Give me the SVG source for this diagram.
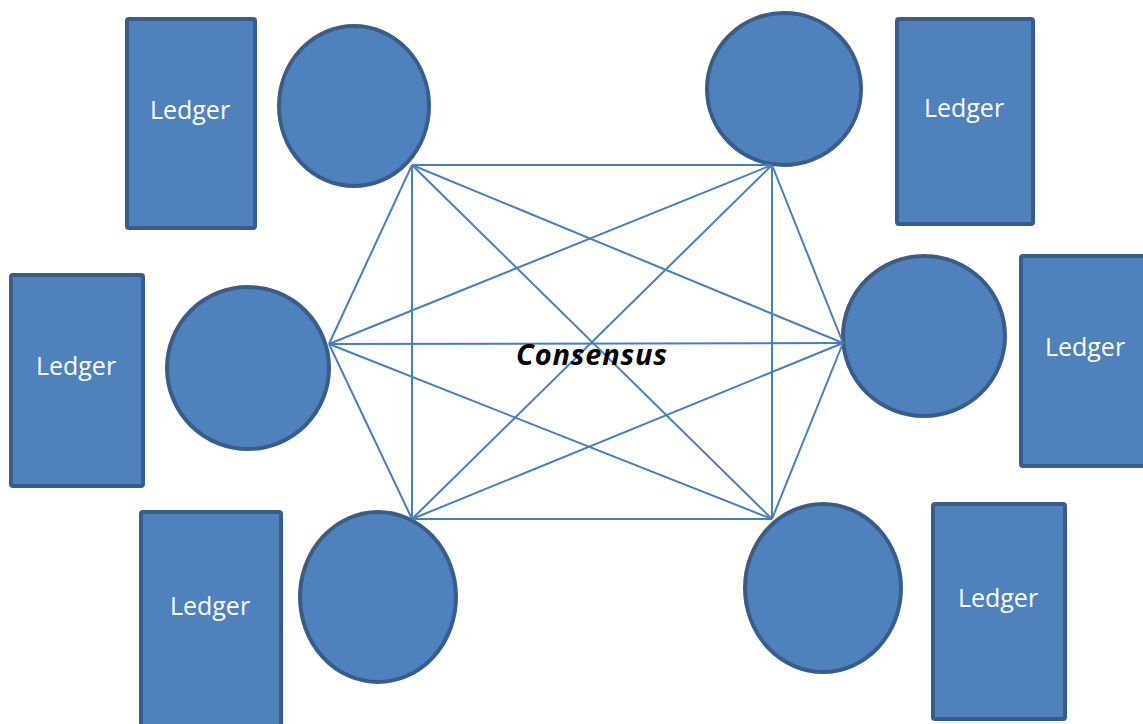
<svg xmlns="http://www.w3.org/2000/svg" width="1143" height="724" viewBox="0 0 1143 724">
<style>
.ledger{fill:#4f81bd;stroke:#385d8a;stroke-width:4}
.node{fill:#4f81bd;stroke:#385d8a;stroke-width:4}
.lt{font-family:"Open Sans","Liberation Sans",sans-serif;font-size:25px;fill:#ffffff;text-anchor:middle;dominant-baseline:central}
.conn line{stroke:#4a7ebb;stroke-width:2}
.cons{font-family:"Open Sans","Liberation Sans",sans-serif;font-size:29px;font-weight:bold;font-style:italic;letter-spacing:0.8px;fill:#000;text-anchor:middle;dominant-baseline:central}
</style>
<rect width="1143" height="724" fill="#ffffff"/>
<g id="ledger1"><rect class="ledger" x="127" y="19" width="128" height="209" rx="2"/><text class="lt" x="190" y="109">Ledger</text></g>
<g id="ledger2"><rect class="ledger" x="11" y="275" width="132" height="211" rx="2"/><text class="lt" x="76" y="365">Ledger</text></g>
<g id="ledger3"><rect class="ledger" x="141" y="512" width="140" height="220" rx="2"/><text class="lt" x="210" y="605">Ledger</text></g>
<g id="ledger4"><rect class="ledger" x="897" y="19" width="136" height="205" rx="2"/><text class="lt" x="964" y="107">Ledger</text></g>
<g id="ledger5"><rect class="ledger" x="1021" y="256" width="132" height="210" rx="2"/><text class="lt" x="1085" y="346">Ledger</text></g>
<g id="ledger6"><rect class="ledger" x="933" y="504" width="132" height="215" rx="2"/><text class="lt" x="998" y="597">Ledger</text></g>
<g id="node1"><ellipse class="node" cx="354" cy="106" rx="75" ry="80"/></g>
<g id="node2"><ellipse class="node" cx="248" cy="368" rx="81" ry="81"/></g>
<g id="node3"><ellipse class="node" cx="378" cy="597" rx="78" ry="85"/></g>
<g id="node4"><ellipse class="node" cx="784" cy="89" rx="77" ry="76"/></g>
<g id="node5"><ellipse class="node" cx="924" cy="336" rx="81" ry="80"/></g>
<g id="node6"><ellipse class="node" cx="823" cy="588" rx="78" ry="84"/></g>
<g id="connectors" class="conn">
<line x1="412" y1="165" x2="772" y2="165"/>
<line x1="412" y1="519" x2="772" y2="519"/>
<line x1="412" y1="165" x2="412" y2="519"/>
<line x1="772" y1="165" x2="772" y2="519"/>
<line x1="329" y1="344" x2="843" y2="343"/>
<line x1="329" y1="344" x2="412" y2="165"/>
<line x1="329" y1="344" x2="412" y2="519"/>
<line x1="843" y1="343" x2="772" y2="165"/>
<line x1="843" y1="343" x2="772" y2="519"/>
<line x1="412" y1="165" x2="772" y2="519"/>
<line x1="772" y1="165" x2="412" y2="519"/>
<line x1="412" y1="165" x2="843" y2="343"/>
<line x1="329" y1="344" x2="772" y2="165"/>
<line x1="329" y1="344" x2="772" y2="519"/>
<line x1="412" y1="519" x2="843" y2="343"/>
</g>
<g id="label"><text class="cons" x="592" y="353">Consensus</text></g>
</svg>
